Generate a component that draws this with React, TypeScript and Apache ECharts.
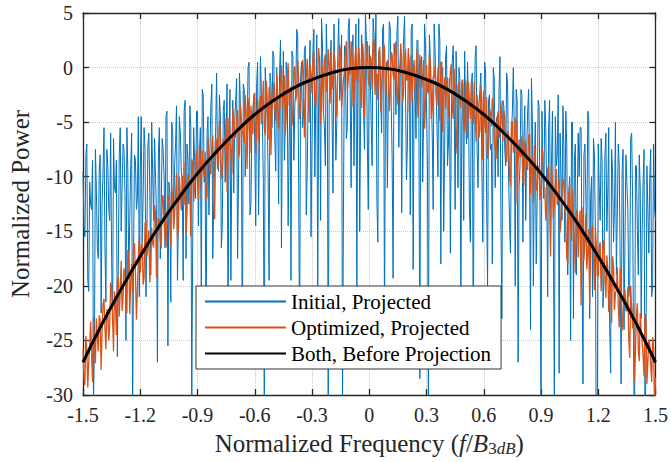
import React, { useEffect, useRef } from "react";
import * as echarts from "echarts";

const FONT = "Liberation Serif";

// sampling grids of the measured spectra (normalized frequency)
const freqs: number[] = Array.from({ length: 301 }, (_, i) => Math.round((-1.5 + i * 0.01) * 1000) / 1000);
const midFreqs: number[] = Array.from({ length: 300 }, (_, i) => Math.round((-1.495 + i * 0.01) * 1000) / 1000);

// Initial, Projected (dB) on freqs
const initialProjected: number[] = [
  -9.5, -15.5, -7, -20.5, -12.5, -8.5, -25.5, -11, -17.5, -8,
  -12.5, -5.5, -21.5, -9, -14, -17.5, -6.5, -11.5, -26.5, -8,
  -15, -7, -11.5, -5.5, -19, -9, -32, -8, -13, -4.5,
  -9.5, -16, -5.5, -21, -7, -11.5, -5, -14, -10, -27,
  -5.5, -12.5, -7.5, -16.5, -4, -10.5, -21.5, -6, -9, -3.5,
  -13.5, -6, -10.5, -4, -17.5, -8.5, -3.5, -31.5, -5.5, -12,
  -4, -8, -21.5, -2.5, -9.5, -6, -13.5, -3.5, -17.5, -8.5,
  -0.5, -9.5, -4.5, -14.5, -3, -6, -24.5, -2, -8, -11.5,
  -3, -17.5, -0.5, -6.5, -1.5, -10, -5.5, 0.5, -12.5, -4,
  -7, -1.5, -13.5, 1, -5, -30.5, -2.5, -9.5, -0.5, -5.5,
  1, -9.5, -3, -0.5, -16.5, 1.5, -5.5, -1, -7.5, -19.5,
  1, -3.5, 3.5, -10.5, -1, -5.5, 1.5, -13.5, -2.5, 2.5,
  -7, 3.5, -2.5, -21, 1, 4.5, -4, -9, 0, -3.5,
  2.5, -11.5, 0, -5, 4.5, -1.5, -30.5, 2, -6.5, 3.5,
  -2, 1.5, -9, 4, -0.5, -15, 3, -3.5, 5, -7,
  2, -5, 4.5, -1, -12, 1, -3, 3.5, -24, 0.5,
  -1.8, 3.7, -8.3, 2.2, -4.3, 4.7, -0.8, -13.3, 2.7, -2.3,
  -7, 0.5, 3.5, -18.5, -1.5, 2.5, -4, 0, -10.5, 4,
  -3.5, -31, 1, -6, 4, -2, -10, 2.5, -1.5, -15,
  1, -9, -1, -5, 2, -13, -3.5, 0, -22, -1.5,
  1.5, -7, -3.5, -16, -0.5, -5, 2, -11, -2, -9,
  -5, -0.5, -20, -2.5, -7, 0, -11, -4.5, -2, -14,
  -3, -7.5, -0.5, -10, -17, -4, -6, -2, -27, -9,
  -2.5, -6.5, -14, -4, -9.5, -1, -20, -5, -12, -3.5,
  -33, -10, -3, -11.5, -5.5, -16, -4, -31, -9, -2.5,
  -6, -14, -7.5, -4, -19, -10, -5, -23, -7, -12,
  -10, -5.5, -29, -7, -16, -4.5, -12, -21, -8, -37,
  -7, -14, -8.5, -19, -6, -11.5, -24, -7.5, -16, -5,
  -13.5, -9, -29, -7.5, -16, -10.5, -21, -6.5, -12, -35,
  -9, -19, -11, -15, -7.5, -27, -13, -10, -21, -7,
  -14,
];

// Initial, Projected (dB) on midFreqs
const initialProjectedMid: number[] = [
  -14.5, -8, -19.5, -10.5, -13, -30.5, -7.5, -16.5, -9.5, -22.5,
  -9.5, -16.5, -7.5, -13, -6, -23.5, -11, -8.5, -18.5, -5.5,
  -11, -7.5, -25, -9.5, -14, -6, -17, -8.5, -12, -21,
  -4.5, -12, -7.5, -15, -6, -19, -9.5, -6.5, -13.5, -8,
  -17.5, -6.5, -10, -4.5, -25.5, -11.5, -5, -14.5, -7, -19.5,
  -4.5, -9.5, -19.5, -3, -7, -12.5, -5.5, -15.5, -8.5, -4,
  -14.5, -5.5, -2, -10.5, -26.5, -4.5, -8, -1.5, -12.5, -6,
  -8.5, -2.5, -16.5, -4, -10.5, -1.5, -6.5, -19.5, -3, -5,
  -1, -10.5, -3.5, -26.5, -2, -6.5, 0, -13.5, -5, -2.5,
  -14.5, 0.5, -6, -2.5, -10.5, 0, -4.5, -19.5, -1.5, 1.5,
  -6.5, 0, -12.5, 2.5, -4, -8.5, 0.5, -14.5, -2, 1.5,
  -8.5, -2, 3, -26.5, 0.5, -4.5, 2, -9.5, -0.5, -15.5,
  1.5, -10, 3, -2.5, -14, 2, -5.5, 4, -31, 0.5,
  -4.5, 4, -8.5, 1, -3, 3, -12.5, 0, -5.5, 4.5,
  -11, 3, -1.5, -20, 4.5, -4, 1, -7.5, 2.5, -13,
  -0.5, -9, 3, 5, -16, 1.5, -6, 4, -2.5, -11,
  4.2, -3.3, -19.3, 0.7, 3.2, -7.3, 1.7, -2.3, 4.7, -10.3,
  1.5, -13.5, 4, -3, -6.5, 2.5, -28.5, 1, -4.5, 2,
  -9, 3, -2.5, -13, 1.5, -5.5, 4, -18, 0, -7.5,
  2, -7, -17, 0.5, -2.5, 1.5, -11, -1, -5, -14,
  -5, 0.5, -13, -1.5, -27, 1, -7.5, -3.5, -0.5, -16,
  0.5, -12, -3, -7.5, -18, -1, -5, -10, 1, -23,
  -3.5, -9, -1.5, -14, -6, 0, -20, -3, -11, -2,
  -16, -3.5, -7.5, -2, -24, -5, -10, -18, -3, -13,
  -4, -12, -5.5, -21, -3, -9, -16, -4.5, -8, -28,
  -10, -3.5, -16, -7, -12, -25, -5, -8.5, -19, -6,
  -5.5, -18, -8, -12, -4, -23, -10, -6.5, -15, -33,
  -11, -6.5, -22, -8, -15, -5.5, -28, -9.5, -13, -19,
  -7, -18, -9.5, -24, -8, -13, -20, -6, -26, -9,
  -15, -8, -23, -10.5, -34, -9, -17, -7.5, -20, -13,
];

// Optimized, Projected (dB) on freqs
const optimizedProjected: number[] = [
  -25.8, -29.1, -25.9, -27.0, -23.3, -28.8, -25.1, -23.0, -26.0, -23.1,
  -24.1, -21.2, -25.8, -22.2, -23.6, -20.1, -26.0, -21.5, -19.8, -22.8,
  -17.7, -21.0, -19.1, -22.5, -17.7, -19.5, -20.5, -16.1, -23.1, -17.4,
  -18.8, -16.0, -19.3, -14.0, -16.5, -19.7, -14.7, -16.5, -13.4, -15.7,
  -14.0, -16.6, -11.8, -15.3, -13.6, -11.9, -16.3, -12.0, -13.5, -9.7,
  -14.7, -11.7, -9.9, -12.6, -15.2, -9.8, -11.1, -8.4, -12.3, -9.5,
  -10.5, -7.1, -11.2, -9.3, -7.7, -11.7, -7.9, -9.8, -6.2, -13.9,
  -6.8, -8.6, -5.8, -9.5, -6.6, -4.6, -8.3, -6.8, -9.7, -4.6,
  -6.2, -3.9, -7.7, -4.7, -6.2, -2.5, -9.3, -4.6, -3.5, -6.1,
  -2.3, -4.8, -6.8, -2.6, -3.9, -5.5, -1.2, -6.6, -2.4, -4.0,
  -1.4, -4.9, -2.4, -3.9, 0.2, -2.9, -6.2, -1.2, -3.5, -1.7,
  -4.3, 0.1, -2.4, -1.0, -3.4, 0.7, -6.4, -0.8, -2.1, 0.3,
  -2.4, 1.5, -3.5, -0.8, 0.4, -1.6, -4.1, 1.2, -1.7, 0.2,
  1.6, -2.0, 0.5, -4.5, 0.1, 1.3, -2.3, -0.5, 2.4, -1.1,
  -0.6, 1.2, -3.0, 1.9, -1.4, 0.6, -3.7, 1.1, -0.2, 2.4,
  -1.7, 0.8, 2.3, -2.5, -0.6, 1.5, -4.0, 0.2, 1.8, -1.3,
  0.5, -2.3, 1.2, -1.1, 2.4, -3.4, -0.7, 0.7, -2.3, 1.7,
  -1.2, -4.1, 1.1, -0.4, -2.2, 1.7, -3.1, 0.0, -1.0, -5.6,
  0.2, -2.4, 0.8, -4.0, -0.9, -2.3, 0.0, -4.9, 0.5, -2.2,
  -3.8, -0.9, -2.7, 0.3, -4.7, -2.1, -7.9, -1.3, -3.7, -1.1,
  -5.8, -2.4, -1.3, -4.7, -3.7, -1.3, -6.8, -3.5, -5.7, -3.0,
  -2.1, -6.0, -8.4, -3.8, -5.4, -3.4, -7.4, -4.8, -6.5, -3.1,
  -6.8, -4.5, -8.7, -6.2, -10.9, -5.0, -7.2, -5.0, -8.9, -8.2,
  -6.3, -10.8, -7.3, -9.4, -6.1, -9.1, -12.4, -7.9, -11.3, -9.0,
  -10.9, -7.8, -11.0, -13.0, -9.0, -17.3, -10.5, -12.6, -9.3, -12.0,
  -15.1, -11.3, -10.7, -14.4, -18.0, -10.7, -15.9, -13.6, -18.8, -13.0,
  -14.1, -21.8, -12.8, -15.9, -18.5, -14.8, -16.4, -14.5, -20.4, -16.3,
  -19.1, -16.0, -18.1, -15.8, -21.1, -18.5, -20.2, -23.4, -18.2, -20.7,
  -18.3, -23.8, -20.3, -22.7, -20.3, -22.3, -24.9, -20.0, -23.9, -28.7,
  -22.7, -25.8, -22.5, -25.1, -28.3, -23.0, -26.9, -25.4, -28.8, -25.6,
  -28.4,
];

// Optimized, Projected (dB) on midFreqs
const optimizedProjectedMid: number[] = [
  -28.4, -24.6, -29.3, -25.4, -26.3, -22.9, -27.1, -24.7, -22.7, -27.7,
  -21.7, -23.8, -22.2, -25.0, -19.7, -23.0, -20.5, -24.5, -19.2, -20.6,
  -22.3, -18.4, -20.0, -16.7, -22.6, -18.0, -16.5, -19.1, -20.5, -15.4,
  -16.4, -19.9, -14.3, -17.3, -14.9, -17.7, -16.1, -12.6, -19.2, -13.8,
  -15.7, -11.7, -14.3, -16.5, -11.7, -13.9, -10.8, -14.8, -11.8, -15.7,
  -10.0, -13.1, -11.7, -8.6, -13.2, -10.2, -15.5, -8.8, -10.8, -7.5,
  -12.1, -8.6, -7.6, -10.0, -12.2, -6.4, -9.0, -7.3, -10.1, -6.4,
  -9.3, -4.9, -10.2, -6.6, -7.6, -11.4, -4.6, -7.7, -3.7, -6.5,
  -4.8, -8.3, -3.3, -5.9, -6.9, -4.2, -2.8, -7.8, -4.7, -2.6,
  -7.9, -2.9, -3.7, -5.2, -1.2, -6.2, -2.8, -1.8, -8.0, -3.0,
  -3.7, -0.5, -5.6, -1.7, -3.6, -0.7, -4.5, 0.4, -2.5, -5.3,
  -0.4, -3.0, 0.7, -4.7, -1.7, -0.4, -3.3, 0.8, -5.0, -0.5,
  1.0, -3.3, -1.4, 1.8, -5.2, 0.1, 0.7, -2.2, 1.7, -3.3,
  -0.9, 1.5, -3.0, 0.2, 2.1, -3.6, -1.1, 1.4, -2.0, 0.1,
  2.4, -3.6, 0.6, -1.0, 1.8, -2.4, 2.2, -4.6, 0.4, -1.1,
  1.1, -2.0, 2.6, -0.7, -3.0, 1.9, -1.5, 2.2, -2.7, 0.7,
  -4.0, 1.4, -0.7, 1.9, -2.0, 0.1, 2.2, -3.2, 0.8, -1.1,
  1.8, -1.9, -3.2, 0.7, -0.4, -4.6, 1.2, -1.8, 0.7, -3.2,
  -2.1, 1.2, -4.7, -0.8, 0.2, -3.5, -1.9, 0.5, -5.9, -0.9,
  -1.5, -4.6, -0.4, -3.5, -0.1, -6.1, -1.8, -3.1, -1.3, -5.7,
  -1.2, -6.5, -3.1, -1.3, -5.2, -4.2, -2.5, -6.4, -1.6, -8.5,
  -5.0, -2.7, -7.4, -4.1, -2.8, -6.6, -8.4, -4.0, -5.8, -4.9,
  -3.9, -8.1, -5.8, -9.8, -5.0, -7.8, -4.6, -12.5, -6.6, -8.1,
  -10.2, -6.7, -8.9, -6.2, -11.6, -8.2, -7.1, -11.0, -9.1, -12.1,
  -7.4, -11.0, -14.0, -9.3, -12.2, -8.9, -13.8, -10.9, -12.6, -10.2,
  -14.0, -10.2, -12.9, -17.4, -11.6, -14.5, -11.2, -16.1, -13.4, -17.4,
  -13.1, -15.3, -17.7, -13.4, -16.9, -21.6, -15.0, -17.2, -14.6, -19.1,
  -16.5, -20.5, -16.0, -19.2, -17.2, -22.4, -19.0, -17.3, -22.2, -20.4,
  -21.9, -18.4, -24.1, -20.6, -22.3, -20.1, -26.6, -22.2, -21.6, -26.0,
  -21.6, -26.9, -24.0, -26.4, -22.6, -29.0, -24.9, -27.3, -24.7, -31.2,
];

// Both, Before Projection (dB)
const beforeFreqs: number[] = [
  -1.5, -1.4, -1.3, -1.2, -1.1, -1.0, -0.9, -0.8, -0.7, -0.6, -0.5, -0.4, -0.3, -0.2, -0.1,
  0, 0.1, 0.2, 0.3, 0.4, 0.5, 0.6, 0.7, 0.8, 0.9, 1.0, 1.1, 1.2, 1.3, 1.4, 1.5,
];
const beforeProjection: number[] = [
  -27, -23.5, -20.3, -17.3, -14.5, -12, -9.7, -7.7, -5.9, -4.3, -3, -1.9, -1.1, -0.5, -0.1,
  0, -0.1, -0.5, -1.1, -1.9, -3, -4.3, -5.9, -7.7, -9.7, -12, -14.5, -17.3, -20.3, -23.5, -27,
];

const legendNames = ["Initial, Projected", "Optimized, Projected", "Both, Before Projection"];
const xTicks = { min: -1.5, max: 1.5, interval: 0.3 };
const yTicks = { min: -30, max: 5, interval: 5 };

function interleave(a: number[], b: number[]): number[][] {
  const out: number[][] = [];
  for (let i = 0; i < freqs.length; i++) {
    out.push([freqs[i], a[i]]);
    if (i < midFreqs.length) out.push([midFreqs[i], b[i]]);
  }
  return out;
}

export default function App() {
  const ref = useRef<HTMLDivElement>(null);
  useEffect(() => {
    if (!ref.current) return;
    const chart = echarts.init(ref.current, undefined, { renderer: "svg" });
    const axisLine = { show: true, onZero: false, lineStyle: { color: "#262626", width: 1.3 } };
    const axisTick = { show: true, inside: true, length: 6, lineStyle: { color: "#262626", width: 1.3 } };
    const splitLine = { show: true, lineStyle: { color: "#c8c8c8", type: "dotted", width: 1 } };
    const labelStyle = { fontFamily: FONT, fontSize: 20, color: "#262626" };
    const fmtX = (v: number) => (Math.abs(v) < 1e-9 ? "0" : v.toFixed(1));
    chart.setOption({
      animation: false,
      grid: { left: 82, right: 13, top: 13, bottom: 66, containLabel: false },
      xAxis: [
        {
          type: "value",
          ...xTicks,
          position: "bottom",
          axisLine,
          axisTick,
          splitLine,
          axisLabel: { ...labelStyle, margin: 10, formatter: fmtX },
          name: "{a|Normalized Frequency (}{i|f}{a|/}{i|B}{s|3}{si|dB}{a|)}",
          nameLocation: "middle",
          nameGap: 34,
          nameTextStyle: {
            fontFamily: FONT,
            fontSize: 25,
            color: "#262626",
            rich: {
              a: { fontFamily: FONT, fontSize: 25, color: "#262626" },
              i: { fontFamily: FONT, fontSize: 25, fontStyle: "italic", color: "#262626" },
              s: { fontFamily: FONT, fontSize: 17, color: "#262626", padding: [11, 0, 0, 0] },
              si: { fontFamily: FONT, fontSize: 17, fontStyle: "italic", color: "#262626", padding: [11, 0, 0, 0] },
            },
          },
        },
        {
          type: "value",
          ...xTicks,
          position: "top",
          axisLine,
          axisTick,
          splitLine: { show: false },
          axisLabel: { show: false },
        },
      ],
      yAxis: [
        {
          type: "value",
          ...yTicks,
          position: "left",
          axisLine,
          axisTick,
          splitLine,
          axisLabel: { ...labelStyle, margin: 10 },
          name: "Normalized Power",
          nameLocation: "middle",
          nameGap: 50,
          nameTextStyle: { fontFamily: FONT, fontSize: 25, color: "#262626" },
        },
        {
          type: "value",
          ...yTicks,
          position: "right",
          axisLine,
          axisTick,
          splitLine: { show: false },
          axisLabel: { show: false },
        },
      ],
      legend: {
        orient: "vertical",
        left: 196,
        top: 286,
        itemWidth: 81,
        itemHeight: 13,
        itemGap: 5,
        padding: [5, 10, 5, 8],
        backgroundColor: "#ffffff",
        borderColor: "#333333",
        borderWidth: 1,
        itemStyle: { opacity: 0 },
        textStyle: { fontFamily: FONT, fontSize: 21, color: "#000" },
        data: legendNames,
      },
      series: [
        {
          name: legendNames[0],
          type: "line",
          symbol: "none",
          clip: true,
          data: interleave(initialProjected, initialProjectedMid),
          lineStyle: { color: "#0072BD", width: 1 },
          itemStyle: { color: "#0072BD" },
          z: 2,
        },
        {
          name: legendNames[1],
          type: "line",
          symbol: "none",
          clip: true,
          data: interleave(optimizedProjected, optimizedProjectedMid),
          lineStyle: { color: "#D95319", width: 1.3 },
          itemStyle: { color: "#D95319" },
          z: 3,
        },
        {
          name: legendNames[2],
          type: "line",
          symbol: "none",
          smooth: true,
          clip: true,
          data: beforeFreqs.map((f, i) => [f, beforeProjection[i]]),
          lineStyle: { color: "#000000", width: 3 },
          itemStyle: { color: "#000000" },
          z: 4,
        },
      ],
    });
    return () => chart.dispose();
  }, []);
  return (
    <div
      ref={ref}
      style={{ position: "fixed", left: 0, top: 0, width: 671, height: 462, background: "#fff" }}
    />
  );
}
